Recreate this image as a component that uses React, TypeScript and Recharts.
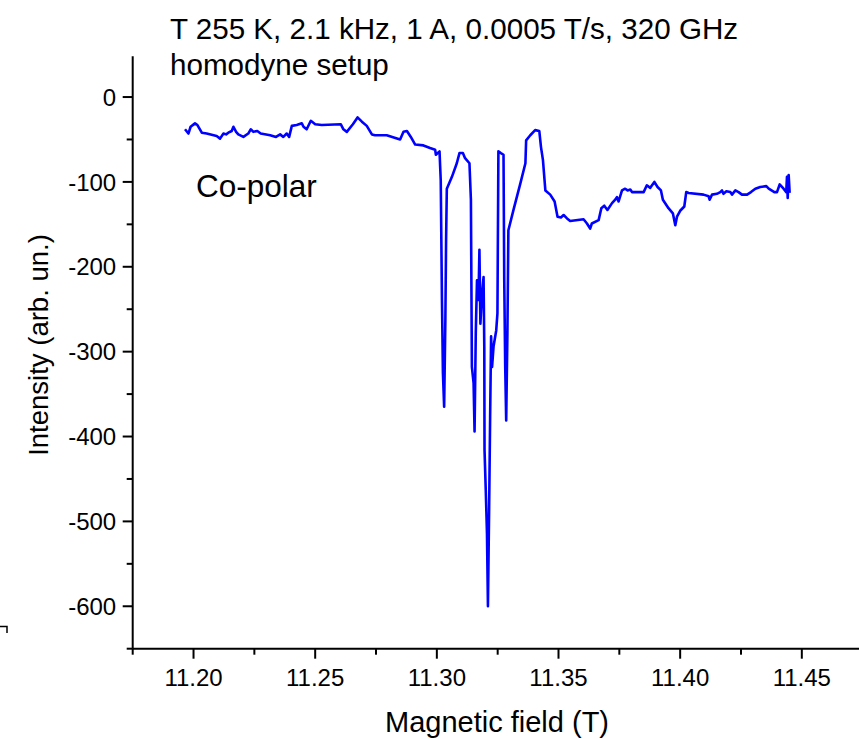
import { LineChart, Line, XAxis, YAxis } from 'recharts'

// magnetic field (T) and intensity (arb. un.)
const fieldT = [
  11.1965, 11.1979, 11.1988, 11.2006, 11.2016, 11.2034, 11.2054, 11.2095, 11.2109, 11.2123,
  11.2134, 11.2143, 11.2157, 11.2164, 11.2175, 11.2184, 11.2205, 11.2225, 11.2235, 11.2246,
  11.2262, 11.2276, 11.2315, 11.2339, 11.2356, 11.2369, 11.2383, 11.2393, 11.2404, 11.2424,
  11.2445, 11.2452, 11.2465, 11.2482, 11.25, 11.2527, 11.2605, 11.2616, 11.263, 11.2655,
  11.2674, 11.2692, 11.2712, 11.2733, 11.2746, 11.2794, 11.2849, 11.2863, 11.2877, 11.2893,
  11.2911, 11.2945, 11.2972, 11.2993, 11.2996, 11.3011, 11.3016, 11.3021, 11.3025, 11.303,
  11.3035, 11.3038, 11.3041, 11.3062, 11.3082, 11.3093, 11.3107, 11.3116, 11.3134, 11.314,
  11.3144, 11.3151, 11.3155, 11.316, 11.3165, 11.3171, 11.3175, 11.3179, 11.3185, 11.3192,
  11.3195, 11.3196, 11.3201, 11.3206, 11.321, 11.3215, 11.3219, 11.3223, 11.3227, 11.3233,
  11.3244, 11.3249, 11.3252, 11.3253, 11.3263, 11.3274, 11.3277, 11.3281, 11.3285, 11.329,
  11.3294, 11.3315, 11.3343, 11.3364, 11.3367, 11.3384, 11.3404, 11.3421, 11.3428, 11.3436,
  11.3446, 11.3466, 11.3484, 11.3496, 11.351, 11.3521, 11.3535, 11.3548, 11.3603, 11.3617,
  11.363, 11.3637, 11.3665, 11.3676, 11.3688, 11.3701, 11.372, 11.3733, 11.374, 11.3747,
  11.3761, 11.3774, 11.3784, 11.3795, 11.3802, 11.385, 11.3863, 11.3877, 11.3894, 11.3907,
  11.3921, 11.3929, 11.3952, 11.397, 11.398, 11.3987, 11.4, 11.4017, 11.4025, 11.4035,
  11.4096, 11.4117, 11.4121, 11.4131, 11.4151, 11.4165, 11.4172, 11.4178, 11.419, 11.4206,
  11.4213, 11.4227, 11.424, 11.4254, 11.4275, 11.4291, 11.4309, 11.4329, 11.4354, 11.4364,
  11.4387, 11.4398, 11.4409, 11.4425, 11.4436, 11.4439, 11.4442, 11.4446, 11.445
]

const intensity = [
  -38, -43, -35, -31, -33, -42, -43, -46, -49, -43,
  -44, -42, -40, -35, -41, -44, -47, -43, -38, -41,
  -40, -43, -45, -47, -44, -47, -43, -47, -34, -33,
  -31, -35, -38, -28, -32, -33, -32, -38, -41, -32,
  -24, -29, -34, -44, -45, -45, -50, -41, -40, -47,
  -56, -57, -60, -62, -68, -64, -98, -239, -325, -365,
  -263, -168, -108, -94, -78, -66, -66, -72, -78, -121,
  -318, -337, -394, -278, -216, -239, -180, -267, -235, -212,
  -294, -416, -463, -514, -600, -483, -377, -282, -318, -294,
  -275, -255, -113, -64, -66, -68, -216, -318, -381, -278,
  -157, -133, -102, -78, -51, -45, -39, -40, -59, -74,
  -110, -115, -123, -141, -142, -139, -143, -146, -144, -149,
  -155, -149, -145, -131, -128, -133, -125, -121, -118, -123,
  -110, -108, -110, -109, -112, -112, -104, -107, -100, -106,
  -110, -121, -131, -137, -151, -141, -134, -129, -112, -113,
  -115, -117, -121, -115, -114, -112, -110, -114, -111, -112,
  -115, -110, -112, -115, -115, -112, -108, -106, -105, -108,
  -112, -112, -103, -108, -112, -94, -119, -92, -113
]

const xMajorTicks = [11.2, 11.25, 11.3, 11.35, 11.4, 11.45]
const xMinorTicks = [11.175, 11.225, 11.275, 11.325, 11.375, 11.425]
const yMajorTicks = [0, -100, -200, -300, -400, -500, -600]
const yMinorTicks = [-50, -150, -250, -350, -450, -550, -650]

const FONT = '"Liberation Sans", Arial, sans-serif'

function XTick({ x, y, payload }: any) {
  const major = xMajorTicks.some((t) => Math.abs(t - payload.value) < 1e-6)
  return (
    <g>
      <line x1={x} x2={x} y1={y} y2={y + (major ? 10 : 6)} stroke="#000" strokeWidth={2} />
      {major && (
        <text x={x} y={y + 37.5} textAnchor="middle" fontSize={24} fontFamily={FONT} fill="#000">
          {payload.value.toFixed(2)}
        </text>
      )}
    </g>
  )
}

function YTick({ x, y, payload }: any) {
  const major = yMajorTicks.includes(payload.value)
  return (
    <g>
      <line x1={x - (major ? 10 : 6)} x2={x} y1={y} y2={y} stroke="#000" strokeWidth={2} />
      {major && (
        <text x={x - 16.5} y={y} dy="0.36em" textAnchor="end" fontSize={24} fontFamily={FONT} fill="#000">
          {payload.value}
        </text>
      )}
    </g>
  )
}

export default function App() {
  const data = fieldT.map((b, i) => ({ b, v: intensity[i] }))
  const xTicks = [...xMinorTicks, ...xMajorTicks].sort((a, b) => a - b)
  const yTicks = [...yMinorTicks, ...yMajorTicks].sort((a, b) => a - b)

  return (
    <div style={{ position: 'absolute', left: 0, top: 0, width: 859, height: 739, background: '#fff' }}>
      <LineChart width={859} height={739} data={data} margin={{ top: 56.3, right: 0, left: 0, bottom: 0 }}>
        <XAxis
          dataKey="b"
          type="number"
          domain={[11.175, 11.4735]}
          allowDataOverflow
          ticks={xTicks}
          interval={0}
          height={90.3}
          tickSize={0}
          tickMargin={0}
          tickLine={false}
          axisLine={{ stroke: '#000', strokeWidth: 2 }}
          tick={<XTick />}
        />
        <YAxis
          type="number"
          domain={[-650, 48]}
          allowDataOverflow
          ticks={yTicks}
          interval={0}
          width={132.7}
          tickSize={0}
          tickMargin={0}
          tickLine={false}
          axisLine={{ stroke: '#000', strokeWidth: 2 }}
          tick={<YTick />}
        />
        <Line
          dataKey="v"
          type="linear"
          stroke="#0000ff"
          strokeWidth={2.6}
          strokeLinejoin="round"
          dot={false}
          isAnimationActive={false}
        />
        <text x={170} y={38.5} fontSize={29.6} fontFamily={FONT} fill="#000">
          T 255 K, 2.1 kHz, 1 A, 0.0005 T/s, 320 GHz
        </text>
        <text x={170} y={75} fontSize={29.6} fontFamily={FONT} fill="#000">
          homodyne setup
        </text>
        <text x={196} y={197} fontSize={31.5} fontFamily={FONT} fill="#000">
          Co-polar
        </text>
        <text
          x={48}
          y={345}
          transform="rotate(-90 48 345)"
          textAnchor="middle"
          fontSize={27.5}
          fontFamily={FONT}
          fill="#000"
        >
          Intensity (arb. un.)
        </text>
        <text x={497} y={732} textAnchor="middle" fontSize={29} fontFamily={FONT} fill="#000">
          Magnetic field (T)
        </text>
        <path d="M0 626.5 H7 V633" fill="none" stroke="#000" strokeWidth={1.5} />
      </LineChart>
    </div>
  )
}
